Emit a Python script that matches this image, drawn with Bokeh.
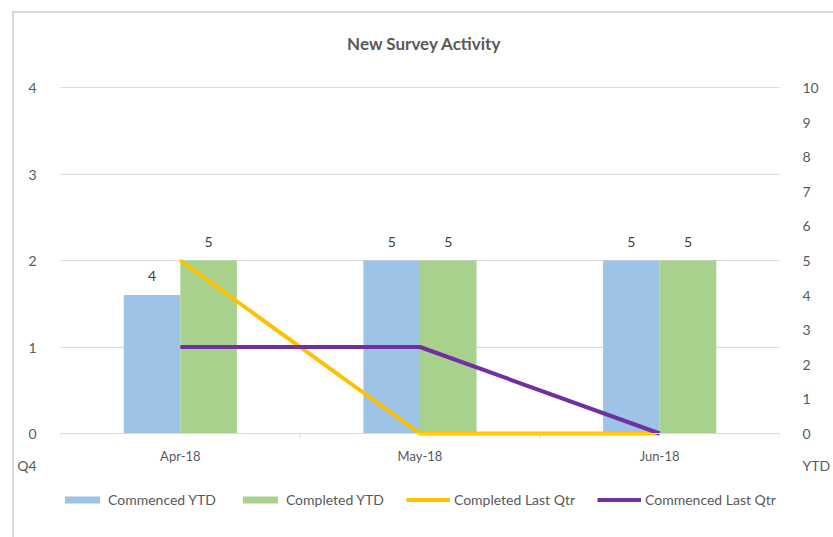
from bokeh.plotting import figure
from bokeh.models import (FactorRange, Range1d, LinearAxis, FixedTicker, ColumnDataSource,
                          LabelSet, Label, Legend, LegendItem, Span)
from bokeh.transform import dodge
from bokeh.core.properties import value
from bokeh.embed import file_html
from bokeh.resources import INLINE

# ---- data ----
months = ["Apr-18", "May-18", "Jun-18"]
commenced_ytd = [4, 5, 5]
completed_ytd = [5, 5, 5]
completed_last_qtr = [2, 0, 0]
commenced_last_qtr = [1, 1, 0]
left_ticks = [0, 1, 2, 3, 4]
right_ticks = [0, 1, 2, 3, 4, 5, 6, 7, 8, 9, 10]
series_names = ["Commenced YTD", "Completed YTD", "Completed Last Qtr", "Commenced Last Qtr"]
title_text = "New Survey Activity"
left_axis_title = "Q4"
right_axis_title = "YTD"

FONT = "Lato"
GRAY = "#595959"
GRID = "#d9d9d9"
C_BLUE = "#9DC3E6"
C_GREEN = "#A9D18E"
C_GOLD = "#FFC000"
C_PURPLE = "#7030A0"

# ---- layout (pixels) ----
W, H = 833, 537
FL, FR, FT, FB = 60, 797, 0, 537     # frame edges
Y0 = 433                               # pixel row of value 0
PXL = (Y0 - 87) / max(left_ticks)      # px per unit, left axis
PXR = (Y0 - 87) / max(right_ticks)     # px per unit, right axis

src = ColumnDataSource(dict(
    month=months,
    zero=[0] * len(months),
    commenced_ytd=commenced_ytd,
    completed_ytd=completed_ytd,
    completed_last_qtr=completed_last_qtr,
    commenced_last_qtr=commenced_last_qtr,
    commenced_lbl=[str(v) for v in commenced_ytd],
    completed_lbl=[str(v) for v in completed_ytd],
))

p = figure(width=W, height=H, x_range=FactorRange(*months),
           y_range=Range1d(-(FB - Y0) / PXL, (Y0 - FT) / PXL),
           output_backend="svg", toolbar_location=None, x_axis_location=None,
           min_border_left=FL, min_border_right=W - FR, min_border_top=FT, min_border_bottom=H - FB)
p.x_range.range_padding = 0
p.x_range.factor_padding = 0
p.outline_line_color = None
p.background_fill_alpha = 0
p.border_fill_alpha = 0
p.styles = {
    "background-image": "linear-gradient(#d9d9d9,#d9d9d9), linear-gradient(#d9d9d9,#d9d9d9)",
    "background-position": "12px 11px, 12px 11px",
    "background-size": "2px 100%, 100% 2px",
    "background-repeat": "no-repeat",
}

p.extra_y_ranges = {"ytd": Range1d(-(FB - Y0) / PXR, (Y0 - FT) / PXR)}

# grids
p.xgrid.visible = False
p.ygrid.ticker = FixedTicker(ticks=left_ticks[1:])
p.ygrid.grid_line_color = GRID
p.ygrid.grid_line_width = 1

q4_pos = -32 / PXL
ytd_pos = -32 / PXR

# left axis
yax = p.yaxis[0]
yax.ticker = FixedTicker(ticks=[q4_pos] + left_ticks)
yax.major_label_overrides = {q4_pos: left_axis_title}
yax.axis_line_color = None
yax.major_tick_line_color = None
yax.minor_tick_line_color = None
yax.major_tick_out = 0
yax.major_tick_in = 0
yax.major_label_standoff = 24
yax.major_label_text_align = "center"
yax.major_label_text_font = FONT
yax.major_label_text_font_size = "14px"
yax.major_label_text_color = GRAY

# right axis
rax = LinearAxis(y_range_name="ytd", ticker=FixedTicker(ticks=[ytd_pos] + right_ticks),
                 major_label_overrides={ytd_pos: right_axis_title})
rax.axis_line_color = None
rax.major_tick_line_color = None
rax.minor_tick_line_color = None
rax.major_tick_out = 0
rax.major_tick_in = 0
rax.major_label_standoff = 23
rax.major_label_text_align = "center"
rax.major_label_text_font = FONT
rax.major_label_text_font_size = "14px"
rax.major_label_text_color = GRAY
p.add_layout(rax, "right")

# category axis line, boundary ticks, category labels
p.add_layout(Span(location=0, dimension="width", line_color=GRID, line_width=1))
bounds = list(range(len(months) + 1))
p.segment(x0=bounds, y0=[0] * len(bounds), x1=bounds, y1=[-5 / PXL] * len(bounds),
          line_color=GRID, line_width=1)
p.add_layout(LabelSet(x="month", y="zero", text="month", source=src, y_offset=-22,
                      text_align="center", text_baseline="middle", text_font=value(FONT),
                      text_font_size="13px", text_color=GRAY))

# bars
off = 0.118
bw = 0.236
r1 = p.vbar(x=dodge("month", -off, range=p.x_range), top="commenced_ytd", width=bw,
            source=src, y_range_name="ytd", fill_color=C_BLUE, line_color=None)
r2 = p.vbar(x=dodge("month", off, range=p.x_range), top="completed_ytd", width=bw,
            source=src, y_range_name="ytd", fill_color=C_GREEN, line_color=None)

# lines
r3 = p.line(x="month", y="completed_last_qtr", source=src, line_color=C_GOLD, line_width=4,
            line_join="round")
r4 = p.line(x="month", y="commenced_last_qtr", source=src, line_color=C_PURPLE, line_width=4,
            line_join="round")

# data labels
for fld, lbl, o in [("commenced_ytd", "commenced_lbl", -off), ("completed_ytd", "completed_lbl", off)]:
    p.add_layout(LabelSet(x=dodge("month", o, range=p.x_range), y=fld, text=lbl, source=src,
                          y_range_name="ytd", text_align="center", text_baseline="bottom",
                          y_offset=14, text_font=value(FONT), text_font_size="14px",
                          text_color="#404040"))

# title
p.add_layout(Label(x=(433 - FL) / ((FR - FL) / len(months)), y=(Y0 - 43) / PXL, text=title_text,
                   text_align="center", text_baseline="middle", text_font=FONT,
                   text_font_size="17px", text_font_style="bold", text_color=GRAY))

# legend (inside the frame, near the bottom)
legend = Legend(items=[LegendItem(label=series_names[0], renderers=[r1]),
                       LegendItem(label=series_names[1], renderers=[r2]),
                       LegendItem(label=series_names[2], renderers=[r3]),
                       LegendItem(label=series_names[3], renderers=[r4])],
                orientation="horizontal", location=(0, FB - 508),
                glyph_width=44, glyph_height=9, label_standoff=4, spacing=22,
                padding=0, margin=0, border_line_color=None, background_fill_alpha=0,
                label_text_font=FONT, label_text_font_size="14px", label_text_color=GRAY,
                label_height=9)
p.add_layout(legend, "center")

open("out.html", "w").write(file_html(p, INLINE))
